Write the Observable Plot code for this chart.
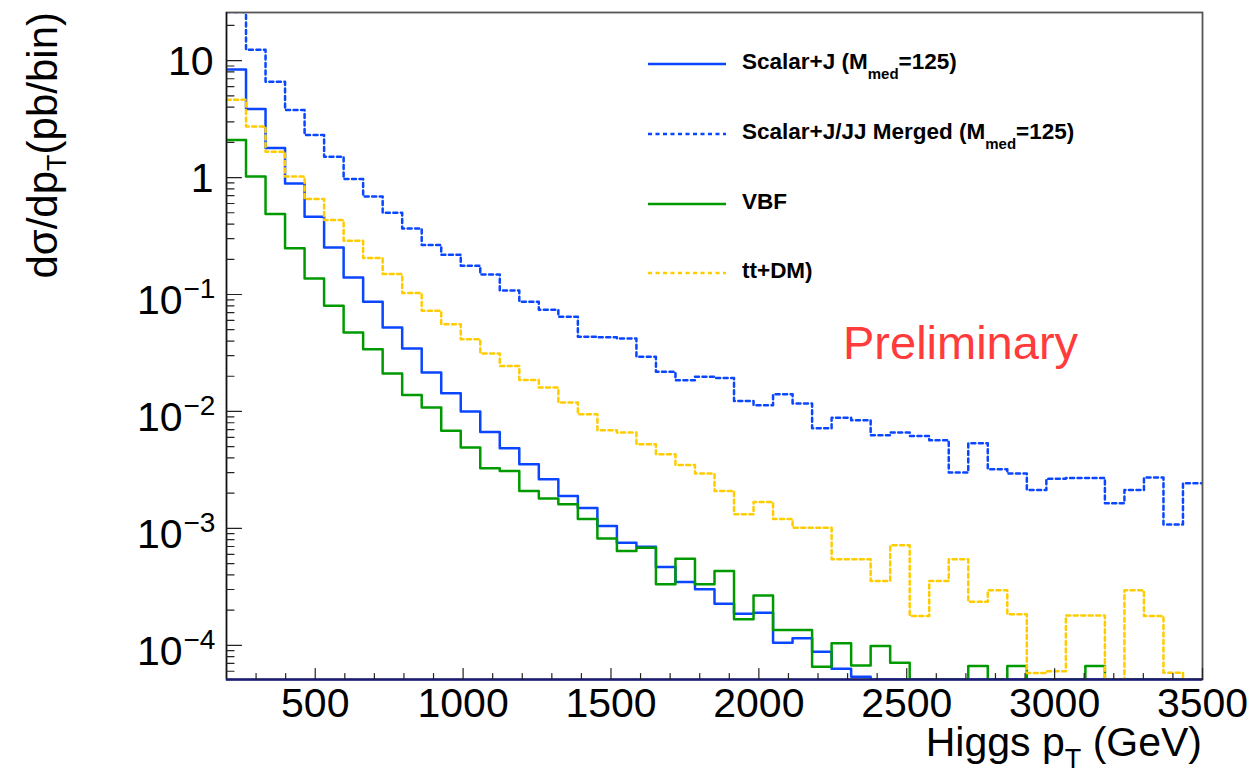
<!DOCTYPE html>
<html>
<head>
<meta charset="utf-8">
<script src="https://cdn.jsdelivr.net/npm/d3@7"></script>
<script src="https://cdn.jsdelivr.net/npm/@observablehq/plot@0.6"></script>
<style>
  body { margin: 0; background: #fff; }
  #chart svg { display: block; font-family: "Liberation Sans", Arial, Helvetica, sans-serif; }
</style>
</head>
<body>
<div id="chart"></div>
<script>
// ---- Data ----
// lower bin edges (GeV), 50 bins of 66 GeV from 200 to 3500
const binLow = [200,266,332,398,464,530,596,662,728,794,860,926,992,1058,1124,1190,1256,1322,1388,1454,
  1520,1586,1652,1718,1784,1850,1916,1982,2048,2114,2180,2246,2312,2378,2444,2510,2576,2642,2708,2774,
  2840,2906,2972,3038,3104,3170,3236,3302,3368,3434];
const binHigh = 3500;

// d sigma / d pT (pb/bin); 0 = empty bin
const scalarJ = [8.38,3.86,1.79,0.891,0.462,0.252,0.140,0.0867,0.0523,0.0345,
  0.0215,0.0143,0.00997,0.00668,0.00484,0.00354,0.00263,0.00189,0.00149,0.00105,
  0.000755,0.000697,0.000467,0.000348,0.000301,0.000227,0.000186,0.000190,0.000105,0.000115,
  8.8e-5,6.3e-5,5.38e-5,0,0,0,0,0,0,0,
  0,0,0,0,0,0,0,0,0,0];
const merged = [26,12.4,6.6,3.78,2.31,1.51,0.97,0.69,0.50,0.367,
  0.265,0.219,0.176,0.148,0.108,0.0867,0.074,0.0644,0.0435,0.043,
  0.042,0.0293,0.0219,0.0185,0.0198,0.0193,0.0123,0.0113,0.0140,0.0117,
  0.00718,0.00885,0.00841,0.00625,0.00659,0.00618,0.00567,0.0030,0.00535,0.0032,
  0.00294,0.00213,0.00266,0.0027,0.0027,0.00164,0.00213,0.00272,0.00108,0.00243];
const vbf = [2.10,1.02,0.488,0.249,0.137,0.080,0.0473,0.0341,0.0211,0.0138,
  0.0108,0.00682,0.00491,0.00327,0.00310,0.00209,0.00180,0.00161,0.00120,0.00082,
  0.00064,0.000684,0.000332,0.000551,0.000332,0.000431,0.000167,0.000267,0.000135,0.000135,
  6.55e-5,0.000104,6.73e-5,9.86e-5,7.1e-5,0,0,0,6.64e-5,0,
  6.64e-5,0,0,0,6.64e-5,0,0,0,0,0];
const ttdm = [4.64,2.74,1.66,1.02,0.655,0.433,0.288,0.205,0.150,0.103,
  0.0726,0.0558,0.0415,0.0313,0.0245,0.0186,0.0160,0.0119,0.00947,0.0069,
  0.0066,0.00524,0.00431,0.00349,0.00294,0.00209,0.00132,0.00168,0.00120,0.00101,
  0.00101,0.000544,0.000544,0.000355,0.000716,0.000178,0.000355,0.000544,0.000236,0.000295,
  0.000184,5.8e-5,6.0e-5,0.00018,0.00018,0,0.000295,0.000178,5.83e-5,0];

const seriesValues = [scalarJ, merged, vbf, ttdm];
const seriesColors = ["#0a46ff", "#0a46ff", "#009a00", "#ffcc00"];
const seriesDash = [null, "4,3.5", null, "4,3.5"];
const legendLabels = [
  ["Scalar+J (M", "med", "=125)"],
  ["Scalar+J/JJ Merged (M", "med", "=125)"],
  ["VBF"],
  ["tt+DM)"]
];

// axes
const xMajorTicks = [500,1000,1500,2000,2500,3000,3500];
const xMinorTicks = [300,400,600,700,800,900,1100,1200,1300,1400,1600,1700,1800,1900,2100,2200,2300,2400,
  2600,2700,2800,2900,3100,3200,3300,3400];
const yMajorTicks = [1e-4,1e-3,1e-2,1e-1,1,10];
const yLabelBase = ["10","10","10","10","1","10"];
const yLabelExp = ["\u22124","\u22123","\u22122","\u22121","",""];
const yMinorTicks = [6e-5,7e-5,8e-5,9e-5,
  2e-4,3e-4,4e-4,5e-4,6e-4,7e-4,8e-4,9e-4,
  2e-3,3e-3,4e-3,5e-3,6e-3,7e-3,8e-3,9e-3,
  2e-2,3e-2,4e-2,5e-2,6e-2,7e-2,8e-2,9e-2,
  0.2,0.3,0.4,0.5,0.6,0.7,0.8,0.9,
  2,3,4,5,6,7,8,9,20];
const yMin = 5.1e-5, yMax = 25.8;

// ---- build ----
function stepPoints(vals) {
  const pts = binLow.map((x, i) => ({x, v: vals[i]}));
  pts.push({x: binHigh, v: vals[vals.length - 1]});
  return pts;
}
const yLabels = yMajorTicks.map((v, i) => ({v, base: yLabelBase[i], exp: yLabelExp[i]}));
const tickShape = {draw(ctx, l) { ctx.moveTo(0, 0); ctx.lineTo(0, -l); }};

const lineMarks = seriesValues.map((vals, i) =>
  Plot.line(stepPoints(vals), {
    x: "x", y: d => Math.max(d.v, yMin), curve: "step-after",
    stroke: seriesColors[i], strokeWidth: 2.5,
    strokeDasharray: seriesDash[i] || undefined, clip: true
  })
);

const plot = Plot.plot({
  width: 1254, height: 778,
  marginLeft: 226, marginRight: 52, marginTop: 12, marginBottom: 99,
  x: {domain: [200, 3500], axis: null},
  y: {type: "log", domain: [yMin, yMax], axis: null},
  style: {background: "white", fontFamily: "'Liberation Sans', Arial, sans-serif", color: "black"},
  marks: [
    ...lineMarks,
    Plot.frame({stroke: "#555", strokeWidth: 1.8}),
    Plot.ruleX([200], {stroke: "#111", strokeWidth: 1.3}),
    Plot.ruleY([yMin], {stroke: "#1c1c74", strokeWidth: 2.6}),
    Plot.vector(yMajorTicks, {y: d => d, frameAnchor: "left", length: 15, rotate: 90, anchor: "start", shape: tickShape, stroke: "#222", strokeWidth: 1.2}),
    Plot.vector(yMinorTicks, {y: d => d, frameAnchor: "left", length: 7.5, rotate: 90, anchor: "start", shape: tickShape, stroke: "#222", strokeWidth: 1.2}),
    Plot.vector(xMajorTicks, {x: d => d, frameAnchor: "bottom", length: 11, rotate: 0, anchor: "start", shape: tickShape, stroke: "#222", strokeWidth: 1.2}),
    Plot.vector(xMinorTicks, {x: d => d, frameAnchor: "bottom", length: 6, rotate: 0, anchor: "start", shape: tickShape, stroke: "#222", strokeWidth: 1.2}),
    Plot.text(xMajorTicks, {x: d => d, text: d => String(d), frameAnchor: "bottom", dy: 24, fontSize: 41, lineAnchor: "middle", fill: "black"}),
    Plot.text(yLabels.filter(d => !d.exp), {y: "v", text: "base", frameAnchor: "left", textAnchor: "end", dx: -13, dy: 1.5, fontSize: 41, lineAnchor: "middle", fill: "black"}),
    Plot.text(yLabels.filter(d => d.exp), {y: "v", text: "base", frameAnchor: "left", textAnchor: "end", dx: -44, dy: 6.5, fontSize: 41, lineAnchor: "middle", fill: "black"}),
    Plot.text(yLabels.filter(d => d.exp), {y: "v", text: "exp", frameAnchor: "left", textAnchor: "start", dx: -43, dy: -5, fontSize: 28, lineAnchor: "middle", fill: "black"})
  ]
});
document.getElementById("chart").appendChild(plot);

// ---- titles, legend, annotation ----
const svg = d3.select(plot);
const xs = plot.scale("x");

// y title
const yt = svg.append("text")
  .attr("transform", "translate(57,12) rotate(-90)")
  .attr("text-anchor", "end").attr("font-size", 42).attr("fill", "black");
yt.append("tspan").text("d\u03c3/dp");
yt.append("tspan").attr("font-size", 27).attr("dy", 9).text("T");
yt.append("tspan").attr("dy", -9).text("(pb/bin)");

// x title
const xt = svg.append("text")
  .attr("x", xs.apply(3500)).attr("y", 756)
  .attr("text-anchor", "end").attr("font-size", 41).attr("fill", "black");
xt.append("tspan").text("Higgs p");
xt.append("tspan").attr("font-size", 27).attr("dy", 12).text("T");
xt.append("tspan").attr("dy", -12).text(" (GeV)");

// legend
const legendRowsY = [64, 134, 204, 273];
const lg = svg.append("g");
legendLabels.forEach((parts, i) => {
  const y = legendRowsY[i];
  lg.append("line").attr("x1", 648).attr("x2", 726).attr("y1", y).attr("y2", y)
    .attr("stroke", seriesColors[i]).attr("stroke-width", 2.3)
    .attr("stroke-dasharray", seriesDash[i] || null);
  const t = lg.append("text").attr("x", 742).attr("y", y + 5)
    .attr("text-anchor", "start")
    .attr("font-size", 22.5).attr("font-weight", "bold").attr("fill", "black");
  t.append("tspan").text(parts[0]);
  if (parts.length > 1) {
    t.append("tspan").attr("font-size", 15).attr("dy", 10).text(parts[1]);
    t.append("tspan").attr("dy", -10).text(parts[2]);
  }
});

// annotation
svg.append("text").attr("x", 843).attr("y", 359).attr("text-anchor", "start")
  .attr("font-size", 47).attr("fill", "#ff3b3b").text("Preliminary");
</script>
</body>
</html>
